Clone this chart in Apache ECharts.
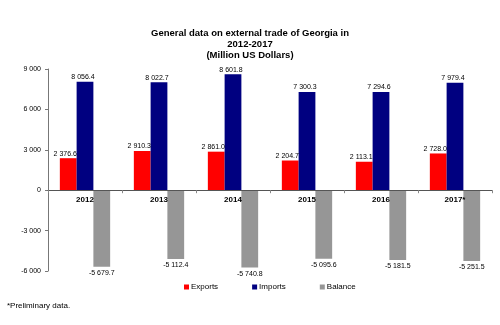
<!DOCTYPE html>
<html>
<head>
<meta charset="utf-8">
<script src="https://cdn.jsdelivr.net/npm/echarts@6/dist/echarts.min.js"></script>
<style>html,body{margin:0;padding:0;background:#fff}#c{width:500px;height:325px}</style>
</head>
<body>
<div id="c"></div>
<script>
var categories = ['2012', '2013', '2014', '2015', '2016', '2017*'];
var exportsData = [2376.6, 2910.3, 2861.0, 2204.7, 2113.1, 2728.0];
var importsData = [8056.4, 8022.7, 8601.8, 7300.3, 7294.6, 7979.4];
var balanceData = [-5679.7, -5112.4, -5740.8, -5095.6, -5181.5, -5251.5];
var yTicks = { min: -6000, max: 9000, interval: 3000 };

var FONT = '"Liberation Sans", Arial, sans-serif';
var GRID = { left: 48, right: 8, top: 69, bottom: 54 };
var plotH = 325 - GRID.top - GRID.bottom;
var zeroFromBottom = plotH * (0 - yTicks.min) / (yTicks.max - yTicks.min);

function fmt(v, dec) {
  var neg = v < 0; var a = Math.abs(v);
  var s = dec ? a.toFixed(dec) : String(Math.round(a));
  var parts = s.split('.');
  parts[0] = parts[0].replace(/\B(?=(\d{3})+(?!\d))/g, ' ');
  return (neg ? '-' : '') + parts.join('.');
}
var lbl = function (pos, dist, off) {
  return { show: true, position: pos, distance: dist, offset: off, color: '#000', fontSize: 7, fontFamily: FONT,
    formatter: function (p) { return fmt(p.value, 1); } };
};
var chart = echarts.init(document.getElementById('c'), null, { renderer: 'canvas' });
chart.setOption({
  animation: false,
  backgroundColor: '#fff',
  textStyle: { fontFamily: FONT },
  title: [
    { text: 'General data on external trade of Georgia in\n2012-2017\n(Million US Dollars)', left: 'center', top: 23,
      textStyle: { fontSize: 9.5, fontWeight: 'bold', color: '#000', lineHeight: 11, fontFamily: FONT, align: 'center' } },
    { text: '*Preliminary data.', left: 2, top: 297, textStyle: { fontSize: 8, fontWeight: 'normal', color: '#000', fontFamily: FONT } }
  ],
  legend: {
    left: 179, top: 278, itemWidth: 5, itemHeight: 5, itemGap: 34, icon: 'rect',
    textStyle: { fontSize: 8, color: '#000', fontFamily: FONT, padding: [0, 0, 0, -3] },
    data: ['Exports', 'Imports', 'Balance']
  },
  grid: GRID,
  xAxis: [{
    type: 'category', data: categories,
    axisLine: { onZero: true, lineStyle: { color: '#555', width: 1 } },
    axisTick: { show: true, length: 3, interval: 0, lineStyle: { color: '#888' } },
    axisLabel: { show: false },
    z: 5
  }, {
    type: 'category', data: categories, position: 'bottom', offset: -zeroFromBottom,
    axisLine: { show: false }, axisTick: { show: false },
    axisLabel: { fontSize: 8, fontWeight: 'bold', color: '#000', margin: 6, fontFamily: FONT },
    zlevel: 1, z: 10
  }],
  yAxis: {
    type: 'value', min: yTicks.min, max: yTicks.max, interval: yTicks.interval,
    splitLine: { show: false },
    axisLine: { show: true, lineStyle: { color: '#777' } },
    axisTick: { show: true, length: 3, lineStyle: { color: '#777' } },
    axisLabel: { fontSize: 7, color: '#000', margin: 7, fontFamily: FONT, formatter: function (v) { return fmt(v, 0); } }
  },
  series: [
    { name: 'Exports', type: 'bar', data: exportsData, barGap: '0%', barCategoryGap: '32%',
      itemStyle: { color: '#ff0000' }, label: lbl('top', 1, [-3, 0]) },
    { name: 'Imports', type: 'bar', data: importsData,
      itemStyle: { color: '#000080' }, label: lbl('top', 1, [-2, 0]) },
    { name: 'Balance', type: 'bar', data: balanceData,
      itemStyle: { color: '#969696' }, label: lbl('bottom', 3, [0, 0]) }
  ]
});
</script>
</body>
</html>
